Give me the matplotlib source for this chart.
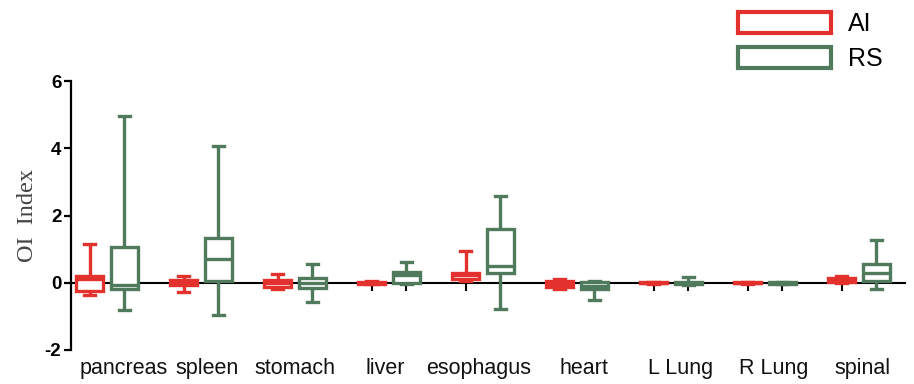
import matplotlib
matplotlib.use("Agg")
import matplotlib.pyplot as plt
from matplotlib.patches import Patch
from matplotlib.transforms import blended_transform_factory

categories = ["pancreas", "spleen", "stomach", "liver", "esophagus", "heart", "L Lung", "R Lung", "spinal"]
series_names = ["AI", "RS"]

# five-number summaries: min, q1, median, q3, max
ai_min = [-0.35, -0.27, -0.18, -0.05, 0.05, -0.18, -0.04, -0.03, 0.00]
ai_q1  = [-0.25, -0.07, -0.12, -0.03, 0.12, -0.13, -0.02, -0.02, 0.03]
ai_med = [ 0.10,  0.00,  0.00,  0.00, 0.22, -0.05,  0.00,  0.00, 0.08]
ai_q3  = [ 0.20,  0.07,  0.08,  0.03, 0.30,  0.05,  0.02,  0.01, 0.15]
ai_max = [ 1.15,  0.20,  0.27,  0.05, 0.93,  0.10,  0.03,  0.02, 0.20]

rs_min = [-0.80, -0.96, -0.57, -0.05, -0.77, -0.50, -0.08, -0.05, -0.20]
rs_q1  = [-0.18,  0.05, -0.15,  0.00,  0.28, -0.20, -0.04, -0.03,  0.05]
rs_med = [-0.08,  0.72,  0.00,  0.22,  0.50, -0.10,  0.00, -0.01,  0.28]
rs_q3  = [ 1.07,  1.33,  0.15,  0.32,  1.60,  0.02,  0.03,  0.01,  0.57]
rs_max = [ 4.95,  4.08,  0.55,  0.62,  2.57,  0.05,  0.18,  0.02,  1.28]

yticks = [-2, 0, 2, 4, 6]

RED = "#E3312D"
GREEN = "#4F7A5B"

fig = plt.figure(figsize=(9.14, 3.84), dpi=100)
ax = fig.add_axes([71/914, (384-350)/384, (905-71)/914, (350-81)/384])

def stats(mins, q1s, meds, q3s, maxs):
    return [dict(whislo=a, q1=b, med=c, q3=d, whishi=e, fliers=[])
            for a, b, c, d, e in zip(mins, q1s, meds, q3s, maxs)]

n = len(categories)
off = 0.185
pos_ai = [i - off for i in range(n)]
pos_rs = [i + off for i in range(n)]
lw = 2.4
for st, pos, col in [(stats(ai_min, ai_q1, ai_med, ai_q3, ai_max), pos_ai, RED),
                     (stats(rs_min, rs_q1, rs_med, rs_q3, rs_max), pos_rs, GREEN)]:
    ax.bxp(st, positions=pos, widths=0.28, capwidths=0.11, showfliers=False,
           patch_artist=True,
           boxprops=dict(facecolor="white", edgecolor=col, linewidth=lw),
           whiskerprops=dict(color=col, linewidth=lw, solid_capstyle="butt"),
           capprops=dict(color=col, linewidth=lw),
           medianprops=dict(color=col, linewidth=lw),
           manage_ticks=False, zorder=3)

ax.set_xlim(-0.383, 8.489)
ax.set_ylim(-2, 6)
ax.set_yticks(yticks)
ax.set_yticklabels([str(v) for v in yticks], fontsize=13.5, fontweight="bold",
                   family="Liberation Sans")
ax.tick_params(axis="y", length=5, width=1.6, pad=2)
ax.set_xticks(pos_ai + pos_rs)
ax.set_xticklabels([])
ax.tick_params(axis="x", direction="out", length=6, width=1.5)
ax.spines["top"].set_visible(False)
ax.spines["right"].set_visible(False)
ax.spines["bottom"].set_position(("data", 0))
ax.spines["bottom"].set_linewidth(1.5)
ax.spines["left"].set_linewidth(1.6)
ax.spines["bottom"].set_zorder(2)

trans = blended_transform_factory(ax.transData, ax.transAxes)
label_shift = [0.18, 0.06, 0.0, -0.04, -0.05, 0.07, 0.1, 0.09, 0.04]
for i, (c, s) in enumerate(zip(categories, label_shift)):
    ax.text(i + s, -0.03, c, transform=trans, ha="center", va="top",
            fontsize=15.5, family="Liberation Sans", color="#111111")

ax.set_ylabel("OI  Index", family="Liberation Serif", fontsize=17.5, color="#444444",
              labelpad=4)
ax.yaxis.set_label_coords(-0.039, 0.5)

handles = [Patch(facecolor="white", edgecolor=RED, linewidth=3),
           Patch(facecolor="white", edgecolor=GREEN, linewidth=3)]
fig.legend(handles, series_names, loc="upper left", bbox_to_anchor=(728/914, 1.0 - 2/384),
           frameon=False, prop=dict(family="Liberation Sans", size=18),
           handlelength=3.7, handleheight=0.9, handletextpad=0.7, labelspacing=0.45,
           borderaxespad=0.0)

fig.savefig("out.png", dpi=100, facecolor="white")
